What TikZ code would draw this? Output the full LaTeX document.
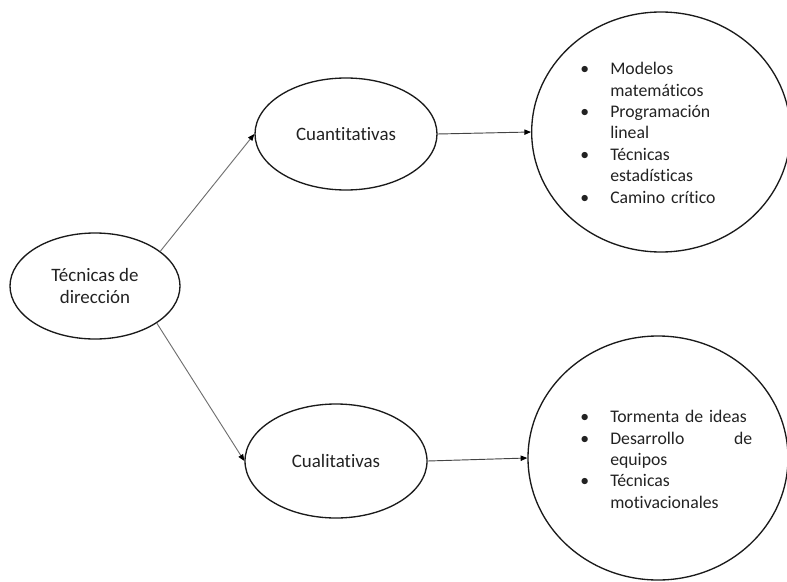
\documentclass[tikz,border=0pt]{standalone}
\usepackage{fontspec}
\setmainfont{Carlito}[Ligatures={NoCommon,NoContextual}]
\usetikzlibrary{positioning,arrows.meta,shapes.geometric}
\definecolor{tdLine}{HTML}{1A1A1A}
\definecolor{tdFlow}{HTML}{6F6F6F}
\definecolor{tdFlowH}{HTML}{444444}
\definecolor{tdText}{HTML}{222222}
\newcommand{\bl}{\makebox[22.5pt][l]{\textbullet}}
\newcommand{\ind}{\hspace*{22.5pt}}
\tikzset{
  td-ellipse/.style={
    draw=tdLine, line width=1pt, ellipse, inner sep=0pt,
    font=\fontsize{14.2}{16.6}\selectfont, text=tdText, align=center
  },
  td-big/.style={td-ellipse},
  td-list/.style={
    font=\fontsize{13.3}{16.1}\selectfont, text=tdText, align=left,
    text width=150pt, inner sep=0pt, anchor=north west
  },
  td-flow/.style={-{Triangle[length=5pt,width=4pt,color=black]},
    line width=0.7pt, draw=tdFlow},
  td-flow-h/.style={td-flow, draw=tdFlowH}
}

\begin{document}
\begin{tikzpicture}[x=0.75pt,y=-0.75pt]
\useasboundingbox (0,0) rectangle (787,581);

\node[td-ellipse, minimum width=127.5pt, minimum height=79.5pt,
  text depth=0pt] (tec) at (95,286) {Técnicas de\\ dirección};
\node[td-ellipse, minimum width=136.5pt, minimum height=84pt] (cuan)
  at (346,134) {Cuantitativas};
\node[td-ellipse, minimum width=136.5pt, minimum height=85.5pt] (cual)
  at (336,461) {Cualitativas};

\node[td-big, minimum width=194pt, minimum height=180pt] (big1)
  at (661,132) {};
\node[td-big, minimum width=195pt, minimum height=183pt] (big2)
  at (658,458) {};

\node[td-list] (list1) at (580,62) {\bl Modelos\\ \ind matemáticos\\
  \bl Programación\\ \ind lineal\\ \bl Técnicas\\ \ind estadísticas\\
  \bl Camino crítico};
\node[td-list] (list2) at (580,410) {\bl Tormenta de ideas\\
  \bl\makebox[106.5pt][l]{Desarrollo\hfill de}\\ \ind equipos\\
  \bl Técnicas\\ \ind motivacionales};

\draw[td-flow] (tec.28) -- (cuan.west);
\draw[td-flow] (tec.-31) -- (cual.west);
\draw[td-flow-h] (cuan.east) -- (big1.west);
\draw[td-flow-h] (cual.east) -- (big2.west);
\end{tikzpicture}
\end{document}
